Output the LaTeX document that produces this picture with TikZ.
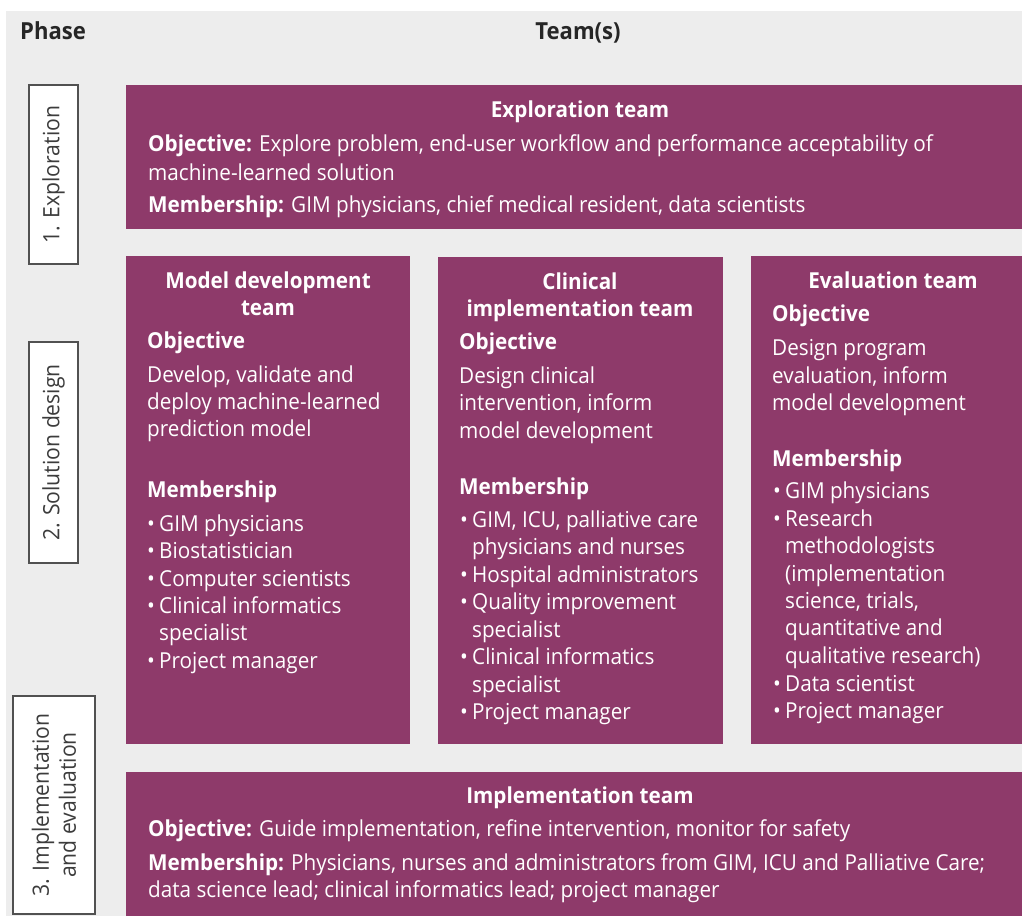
\documentclass[tikz,border=0pt]{standalone}
\usepackage{fontspec}
\setmainfont{Open Sans}[FakeStretch=0.94]
\definecolor{plum}{HTML}{8E3A6A}
\definecolor{bgray}{HTML}{EDEDED}
\definecolor{ink}{HTML}{262626}
\newcommand\Ln[4]{\node[wt,anchor=base west] (#1) at (#2,#3) {#4};}
\newcommand\Lc[4]{\node[wt,anchor=base,font=\fontsize{22}{26}\selectfont\bfseries] (#1) at (#2,#3) {#4};}
\newcommand\Bl[4]{\node[wt,anchor=base west] (#1b) at (#2,#3) {\textbullet};\node[wt,anchor=base west] (#1) at (#2+12,#3) {#4};}
\begin{document}
\begin{tikzpicture}[x=1pt,y=-1pt,
  team/.style={fill=plum,draw=none},
  phasebox/.style={fill=white,draw=ink!80,line width=1.2pt},
  wt/.style={text=white,inner sep=0pt,font=\fontsize{22}{26}\selectfont},
  hd/.style={text=ink,inner sep=0pt,font=\fontsize{23.5}{27}\selectfont\bfseries},
  ph/.style={text=ink!90,inner sep=0pt,align=center,rotate=90,font=\fontsize{22.5}{27}\selectfont}]
\useasboundingbox (0,0) rectangle (1022,916);
\fill[bgray] (6,11) rectangle (1022,916);
% headers
\node[hd,anchor=base west] (phase) at (20,39) {Phase};
\node[hd,anchor=base] (teams) at (578,39) {Team(s)};
% phase boxes
\node[phasebox,minimum width=49,minimum height=179,inner sep=0pt] (p1) at (53.5,174.5) {};
\node[ph] (p1t) at (p1.center) {1. Exploration};
\node[phasebox,minimum width=49,minimum height=221,inner sep=0pt] (p2) at (53.5,452.5) {};
\node[ph] (p2t) at (p2.center) {2. Solution design};
\node[phasebox,minimum width=82,minimum height=218,inner sep=0pt] (p3) at (54,805) {};
\node[ph] (p3t) at (p3.center) {3. Implementation\\and evaluation};
% team boxes
\fill[team] (126,85) rectangle (1022,229);
\fill[team] (126,256) rectangle (410,744);
\fill[team] (438,257) rectangle (723,744);
\fill[team] (751,256) rectangle (1022,744);
\fill[team] (126,772) rectangle (1022,916);
% exploration
\Lc{e0}{580}{117}{Exploration team}
\Ln{e1}{148}{151}{\textbf{Objective:} Explore problem, end-user workflow and performance acceptability of}
\Ln{e2}{148}{180}{machine-learned solution}
\Ln{e3}{148}{212}{\textbf{Membership:} GIM physicians, chief medical resident, data scientists}
% model development
\Lc{m0}{268}{288}{Model development}
\Lc{m00}{268}{315}{team}
\Ln{m1}{147}{348}{\textbf{Objective}}
\Ln{m2}{147}{382}{Develop, validate and}
\Ln{m3}{147}{409}{deploy machine-learned}
\Ln{m4}{147}{436}{prediction model}
\Ln{m5}{147}{497}{\textbf{Membership}}
\Bl{m6}{147}{531}{GIM physicians}
\Bl{m7}{147}{558}{Biostatistician}
\Bl{m8}{147}{586}{Computer scientists}
\Bl{m9}{147}{613}{Clinical informatics}
\Ln{m10}{159}{640}{specialist}
\Bl{m11}{147}{668}{Project manager}
% clinical implementation
\Lc{c0}{580}{289}{Clinical}
\Lc{c00}{580}{316}{implementation team}
\Ln{c1}{459}{349}{\textbf{Objective}}
\Ln{c2}{459}{383}{Design clinical}
\Ln{c3}{459}{410}{intervention, inform}
\Ln{c4}{459}{438}{model development}
\Ln{c5}{459}{494}{\textbf{Membership}}
\Bl{c6}{460}{527}{GIM, ICU, palliative care}
\Ln{c7}{472}{554}{physicians and nurses}
\Bl{c8}{460}{582}{Hospital administrators}
\Bl{c9}{460}{609}{Quality improvement}
\Ln{c10}{472}{637}{specialist}
\Bl{c11}{460}{664}{Clinical informatics}
\Ln{c12}{472}{692}{specialist}
\Bl{c13}{460}{719}{Project manager}
% evaluation
\Lc{v0}{893}{288}{Evaluation team}
\Ln{v1}{772}{321}{\textbf{Objective}}
\Ln{v2}{772}{355}{Design program}
\Ln{v3}{772}{383}{evaluation, inform}
\Ln{v4}{772}{410}{model development}
\Ln{v5}{772}{466}{\textbf{Membership}}
\Bl{v6}{773}{498}{GIM physicians}
\Bl{v7}{773}{526}{Research}
\Ln{v8}{785}{553}{methodologists}
\Ln{v9}{785}{581}{(implementation}
\Ln{v10}{785}{608}{science, trials,}
\Ln{v11}{785}{635}{quantitative and}
\Ln{v12}{785}{663}{qualitative research)}
\Bl{v13}{773}{691}{Data scientist}
\Bl{v14}{773}{718}{Project manager}
% implementation
\Lc{i0}{580}{803}{Implementation team}
\Ln{i1}{148}{836}{\textbf{Objective:} Guide implementation, refine intervention, monitor for safety}
\Ln{i2}{148}{870}{\textbf{Membership:} Physicians, nurses and administrators from GIM, ICU and Palliative Care;}
\Ln{i3}{148}{897}{data science lead; clinical informatics lead; project manager}
\end{tikzpicture}
\end{document}
